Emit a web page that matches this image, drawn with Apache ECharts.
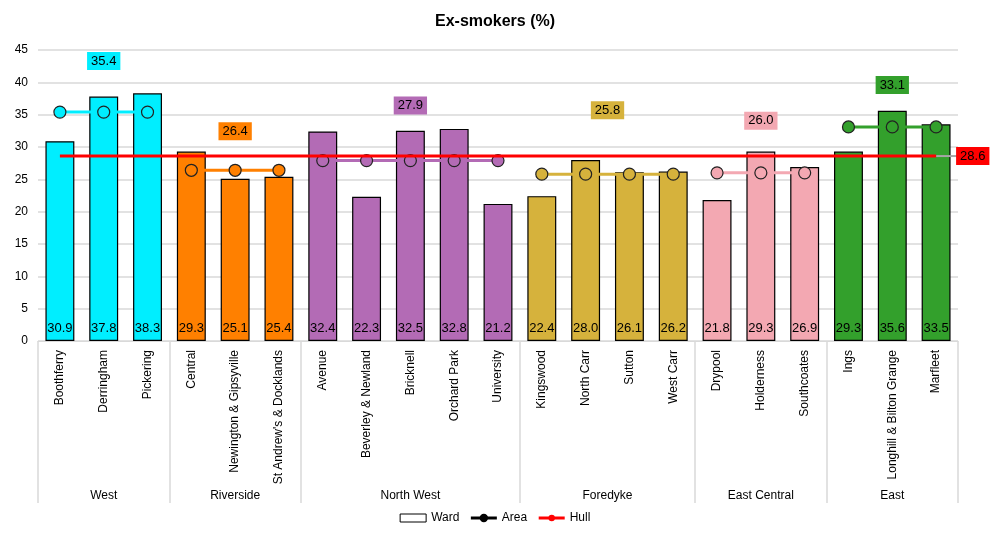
<!DOCTYPE html>
<html>
<head>
<meta charset="utf-8">
<script src="https://cdn.jsdelivr.net/npm/echarts@6/dist/echarts.min.js"></script>
<style>
  html, body { margin: 0; padding: 0; background: #fff; }
  #chart { width: 990px; height: 533px; }
</style>
</head>
<body>
<div id="chart"></div>
<script>
// ward categories and values
const wards = ['Boothferry', 'Derringham', 'Pickering', 'Central', 'Newington & Gipsyville', "St Andrew's & Docklands",
  'Avenue', 'Beverley & Newland', 'Bricknell', 'Orchard Park', 'University',
  'Kingswood', 'North Carr', 'Sutton', 'West Carr', 'Drypool', 'Holderness', 'Southcoates',
  'Ings', 'Longhill & Bilton Grange', 'Marfleet']
const wardValues = [30.9, 37.8, 38.3, 29.3, 25.1, 25.4, 32.4, 22.3, 32.5, 32.8, 21.2,
  22.4, 28.0, 26.1, 26.2, 21.8, 29.3, 26.9, 29.3, 35.6, 33.5]
// areas: name, number of wards, area value
const areas = ['West', 'Riverside', 'North West', 'Foredyke', 'East Central', 'East']
const areaSizes = [3, 3, 5, 4, 3, 3]
const areaValues = [35.4, 26.4, 27.9, 25.8, 26.0, 33.1]
const hullValue = 28.6
const yTicks = [0, 5, 10, 15, 20, 25, 30, 35, 40, 45]

// styling
const areaColors = ['#00EEFF', '#FF8000', '#B36BB5', '#D6B23C', '#F3A8B2', '#33A02C']
const areaLabelOffsets = [-51, -39, -55, -64, -52, -42]
const font = 'Liberation Sans, Arial, sans-serif'

let starts = []
let acc = 0
areaSizes.forEach(n => { starts.push(acc); acc += n })
const boundaries = starts.concat([acc])
const centers = starts.map((s, i) => s + areaSizes[i] / 2)

const barData = wardValues.map((v, i) => {
  let g = starts.filter(s => s <= i).length - 1
  return { value: v, itemStyle: { color: areaColors[g] } }
})

const areaSeries = areas.map((name, g) => ({
  name: 'Area',
  type: 'line',
  xAxisIndex: 0,
  data: wards.map((w, i) => (i >= starts[g] && i < starts[g] + areaSizes[g]) ? areaValues[g] : '-'),
  symbol: 'circle',
  symbolSize: 12,
  lineStyle: { color: areaColors[g], width: 3 },
  itemStyle: { color: areaColors[g], borderColor: '#222', borderWidth: 1.2 },
  z: 4
}))

const areaLabelSeries = {
  name: 'areaLabels',
  type: 'scatter',
  xAxisIndex: 1,
  symbolSize: 0,
  silent: true,
  itemStyle: { opacity: 1 },
  data: areas.map((a, g) => ({
    value: [centers[g], areaValues[g]],
    label: {
      show: true,
      position: 'inside',
      offset: [0, areaLabelOffsets[g]],
      formatter: areaValues[g].toFixed(1),
      backgroundColor: areaColors[g],
      color: '#000',
      opacity: 1,
      fontSize: 13,
      fontFamily: font,
      padding: [3, 4, 2, 4]
    }
  })),
  z: 6
}

// thin grey connector from the last ward to the Hull label
const hullConnector = {
  name: 'hullConnector',
  type: 'line',
  xAxisIndex: 1,
  silent: true,
  symbol: 'none',
  data: [[wards.length - 0.5, hullValue], [wards.length, hullValue]],
  lineStyle: { color: '#a6a6a6', width: 2 },
  z: 4
}

let myChart = echarts.init(document.getElementById('chart'))
let option = {
  animation: false,
  title: {
    text: 'Ex-smokers (%)',
    left: 'center',
    top: 9,
    textStyle: { fontSize: 16, fontWeight: 'bold', fontFamily: font, color: '#000' }
  },
  legend: {
    bottom: 4,
    left: 'center',
    itemGap: 10,
    itemWidth: 26,
    itemHeight: 8,
    textStyle: { fontSize: 12, fontFamily: font, color: '#000' },
    data: [
      { name: 'Ward', icon: 'rect', itemStyle: { color: '#fff', borderColor: '#000', borderWidth: 1 } },
      { name: 'Area', itemStyle: { color: '#000', borderColor: '#000' }, lineStyle: { color: '#000', width: 3 } },
      { name: 'Hull', lineStyle: { color: '#ff0000', width: 3 } }
    ]
  },
  grid: { left: 38, right: 32, top: 50, bottom: 192 },
  xAxis: [{
    type: 'category',
    data: wards,
    axisLine: { lineStyle: { color: '#d9d9d9' } },
    axisTick: { show: false },
    axisLabel: { rotate: 90, interval: 0, fontSize: 12, fontFamily: font, color: '#000', margin: 9 }
  }, {
    type: 'value',
    position: 'bottom',
    min: 0,
    max: wards.length,
    axisLine: { show: false },
    splitLine: { show: false },
    axisTick: {
      show: true,
      customValues: boundaries,
      length: 162,
      lineStyle: { color: '#d9d9d9', width: 1.5 }
    },
    axisLabel: {
      customValues: centers,
      margin: 149,
      fontSize: 12,
      fontFamily: font,
      color: '#000',
      formatter: v => areas[centers.indexOf(v)]
    }
  }],
  yAxis: {
    type: 'value',
    min: 0,
    max: 45,
    interval: 5,
    axisLine: { show: false },
    axisTick: { show: false },
    splitLine: { lineStyle: { color: '#d9d9d9', width: 1.5 } },
    axisLabel: { fontSize: 12, fontFamily: font, color: '#000', margin: 10,
      formatter: v => yTicks.indexOf(v) >= 0 ? String(v) : '' }
  },
  series: [{
    name: 'Ward',
    type: 'bar',
    xAxisIndex: 0,
    data: barData,
    barWidth: '66%',
    itemStyle: { borderColor: '#000', borderWidth: 1.2 },
    label: {
      show: true,
      position: 'insideBottom',
      distance: 6,
      formatter: p => p.value.toFixed(1),
      color: '#000',
      fontSize: 13,
      fontFamily: font
    },
    z: 2
  }].concat(areaSeries).concat([{
    name: 'Hull',
    type: 'line',
    xAxisIndex: 0,
    data: wards.map(() => hullValue),
    symbol: 'none',
    lineStyle: { color: '#ff0000', width: 3 },
    itemStyle: { color: '#ff0000' },
    endLabel: {
      show: true,
      formatter: hullValue.toFixed(1),
      backgroundColor: '#ff0000',
      color: '#000',
      fontSize: 13,
      fontFamily: font,
      padding: [3, 4, 2, 4],
      distance: 20
    },
    z: 5
  }, hullConnector, areaLabelSeries])
}
myChart.setOption(option)
</script>
</body>
</html>
